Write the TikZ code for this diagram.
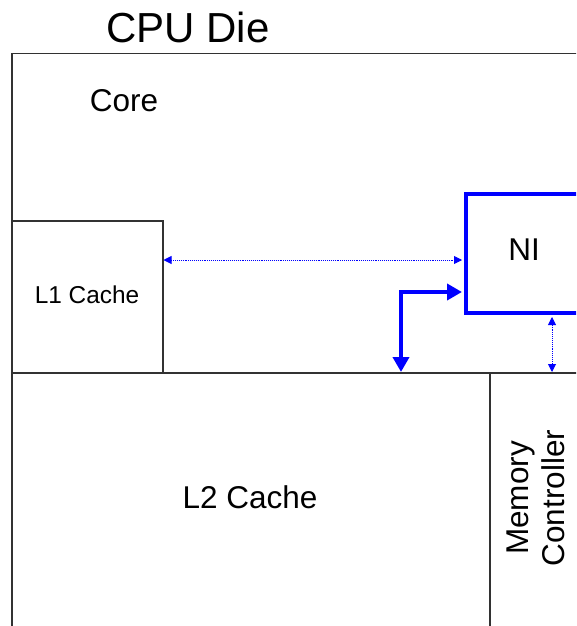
\documentclass[tikz,border=0pt]{standalone}
\usepackage{fontspec}
\setmainfont{Liberation Sans}
\usetikzlibrary{arrows.meta,calc}
\definecolor{niblue}{RGB}{0,0,255}
\definecolor{edge}{RGB}{50,50,50}
\tikzset{
  blk/.style={draw=edge, line width=1.5pt, rectangle, anchor=north west, inner sep=0pt},
  txt/.style={font=\fontsize{31.5}{35}\selectfont, inner sep=0pt},
  dotarrow/.style={niblue, line width=0.9pt, densely dotted,
     {Triangle[length=8pt,width=8pt]}-{Triangle[length=8pt,width=8pt]}},
  bigarrow/.style={niblue, line width=4pt,
     {Triangle[length=15pt,width=16pt]}-{Triangle[length=15pt,width=16pt]}}
}
\begin{document}
\begin{tikzpicture}[x=1pt,y=-1pt]
\useasboundingbox (0,0) rectangle (576,626);
\clip (0,0) rectangle (576,626);
\fill[white] (0,0) rectangle (576,626);
% boxes
\node[blk, minimum width=570pt, minimum height=572.6pt] (die) at (11,53) {};
\node[blk, minimum width=151pt, minimum height=152pt] (l1) at (11,220) {};
\node[blk, minimum width=478pt, minimum height=253.6pt] (l2) at (11,372) {};
\node[blk, minimum width=92pt, minimum height=253.6pt] (mc) at (489,372) {};
\node[blk, draw=niblue, line width=4pt, minimum width=120pt, minimum height=119pt] (ni) at (464,192) {};
% labels
\node[font=\fontsize{42}{46}\selectfont, inner sep=0pt] (title) at (188,27) {CPU Die};
\node[txt] (corelbl) at (124,101) {Core};
\node[txt, font=\fontsize{24.4}{28}\selectfont] (l1lbl) at (87,295) {L1 Cache};
\node[txt] (l2lbl) at (250,497) {L2 Cache};
\node[txt] (nilbl) at (524,250) {NI};
\node[txt, rotate=90, align=center, font=\fontsize{31.5}{36}\selectfont] (mclbl) at (536,498) {Memory\\Controller};
% connectors
\coordinate (dy) at (0,260);
\draw[dotarrow] (l1.east |- dy) -- ([xshift=-2pt]ni.west |- dy);
\coordinate (bend) at (401,292);
\draw[bigarrow] (bend |- l2.north) -- (bend) -- ([xshift=-2pt]ni.west |- bend);
\coordinate (vx) at (552,0);
\draw[dotarrow] ([yshift=-2pt]ni.south -| vx) -- (mc.north -| vx);
\end{tikzpicture}
\end{document}
